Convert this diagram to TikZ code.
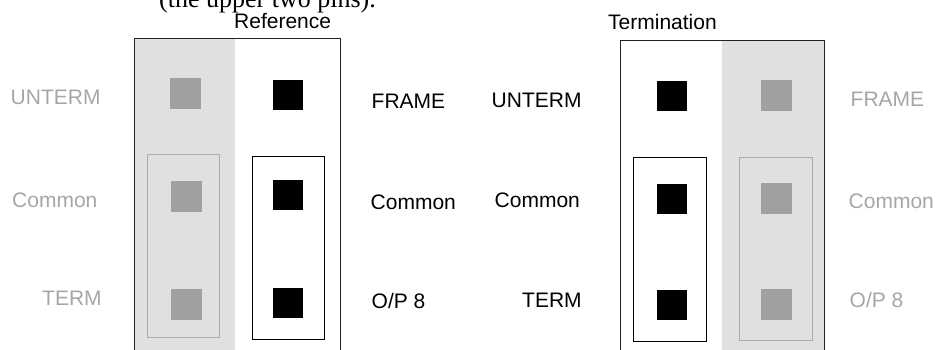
\documentclass[tikz,border=0pt]{standalone}
\usepackage{fontspec}
\setmainfont{Liberation Sans}
\newfontfamily\serifcap{Liberation Serif}
\definecolor{panelfill}{HTML}{E0E0E0}
\definecolor{pingray}{HTML}{A0A0A0}
\definecolor{txtgray}{HTML}{A6A6A6}
\definecolor{boxgray}{HTML}{ABABAB}
\definecolor{framecol}{HTML}{222222}
\begin{document}
\begin{tikzpicture}[x=1pt,y=-1pt,
  lbl/.style={anchor=base west,inner sep=0pt,font=\fontsize{21}{25}\selectfont},
  lblg/.style={lbl,text=txtgray},
  pinb/.style={draw=none,fill=black,minimum width=30pt,minimum height=30pt,inner sep=0pt},
  ping/.style={draw=none,fill=pingray,minimum width=31pt,minimum height=31pt,inner sep=0pt},
  jumpb/.style={draw=black,line width=1pt},
  jumpg/.style={draw=boxgray,line width=1pt},
  frm/.style={draw=framecol,line width=1pt}]
\useasboundingbox (0,0) rectangle (937,349);
\clip (0,0) rectangle (937,349);
% caption cut off at the top
\node[anchor=base west,inner sep=0pt,font=\serifcap\fontsize{26}{30}\selectfont] (cap) at (159,7) {(the upper two pins).};
% ---------- left: Reference ----------
\fill[panelfill] (134,38) rectangle (235,352);
\draw[frm] (134,352) -- (134,38) -- (340,38) -- (340,352);
\node[lbl] (reftitle) at (234,28) {Reference};
\node[ping] (lg1) at (185.5,93.5) {};
\node[pinb] (lb1) at (288,95) {};
\draw[jumpg] (147,154) rectangle (219,337);
\node[ping] (lg2) at (186,196.5) {};
\node[ping] (lg3) at (186,304) {};
\draw[jumpb] (252,156) rectangle (324,339);
\node[pinb] (lb2) at (288,195) {};
\node[pinb] (lb3) at (288,303) {};
\node[lblg] (lunterm) at (10.5,104) {UNTERM};
\node[lblg] (lcommon) at (12,207) {Common};
\node[lblg] (lterm) at (42,305) {TERM};
\node[lbl] (lframe) at (371.5,108) {FRAME};
\node[lbl] (lcommonb) at (370.5,209) {Common};
\node[lbl] (lop) at (371.5,308) {O/P 8};
% ---------- right: Termination ----------
\fill[panelfill] (722,40) rectangle (824,352);
\draw[frm] (620,352) -- (620,40) -- (824,40) -- (824,352);
\node[lbl] (termtitle) at (608,29) {Termination};
\node[pinb] (rb1) at (672,96) {};
\node[ping] (rg1) at (776.5,95.5) {};
\draw[jumpb] (633,157) rectangle (706,341);
\node[pinb] (rb2) at (672,199) {};
\node[pinb] (rb3) at (672,305) {};
\draw[jumpg] (739,157) rectangle (812,340);
\node[ping] (rg2) at (776.5,198) {};
\node[ping] (rg3) at (776.5,304) {};
\node[lbl] (runterm) at (491.5,107) {UNTERM};
\node[lbl] (rcommon) at (494.5,207) {Common};
\node[lbl] (rterm) at (522,307) {TERM};
\node[lblg] (rframe) at (850.5,106) {FRAME};
\node[lblg] (rcommong) at (848.5,208) {Common};
\node[lblg] (rop) at (849.5,307) {O/P 8};
\end{tikzpicture}
\end{document}
